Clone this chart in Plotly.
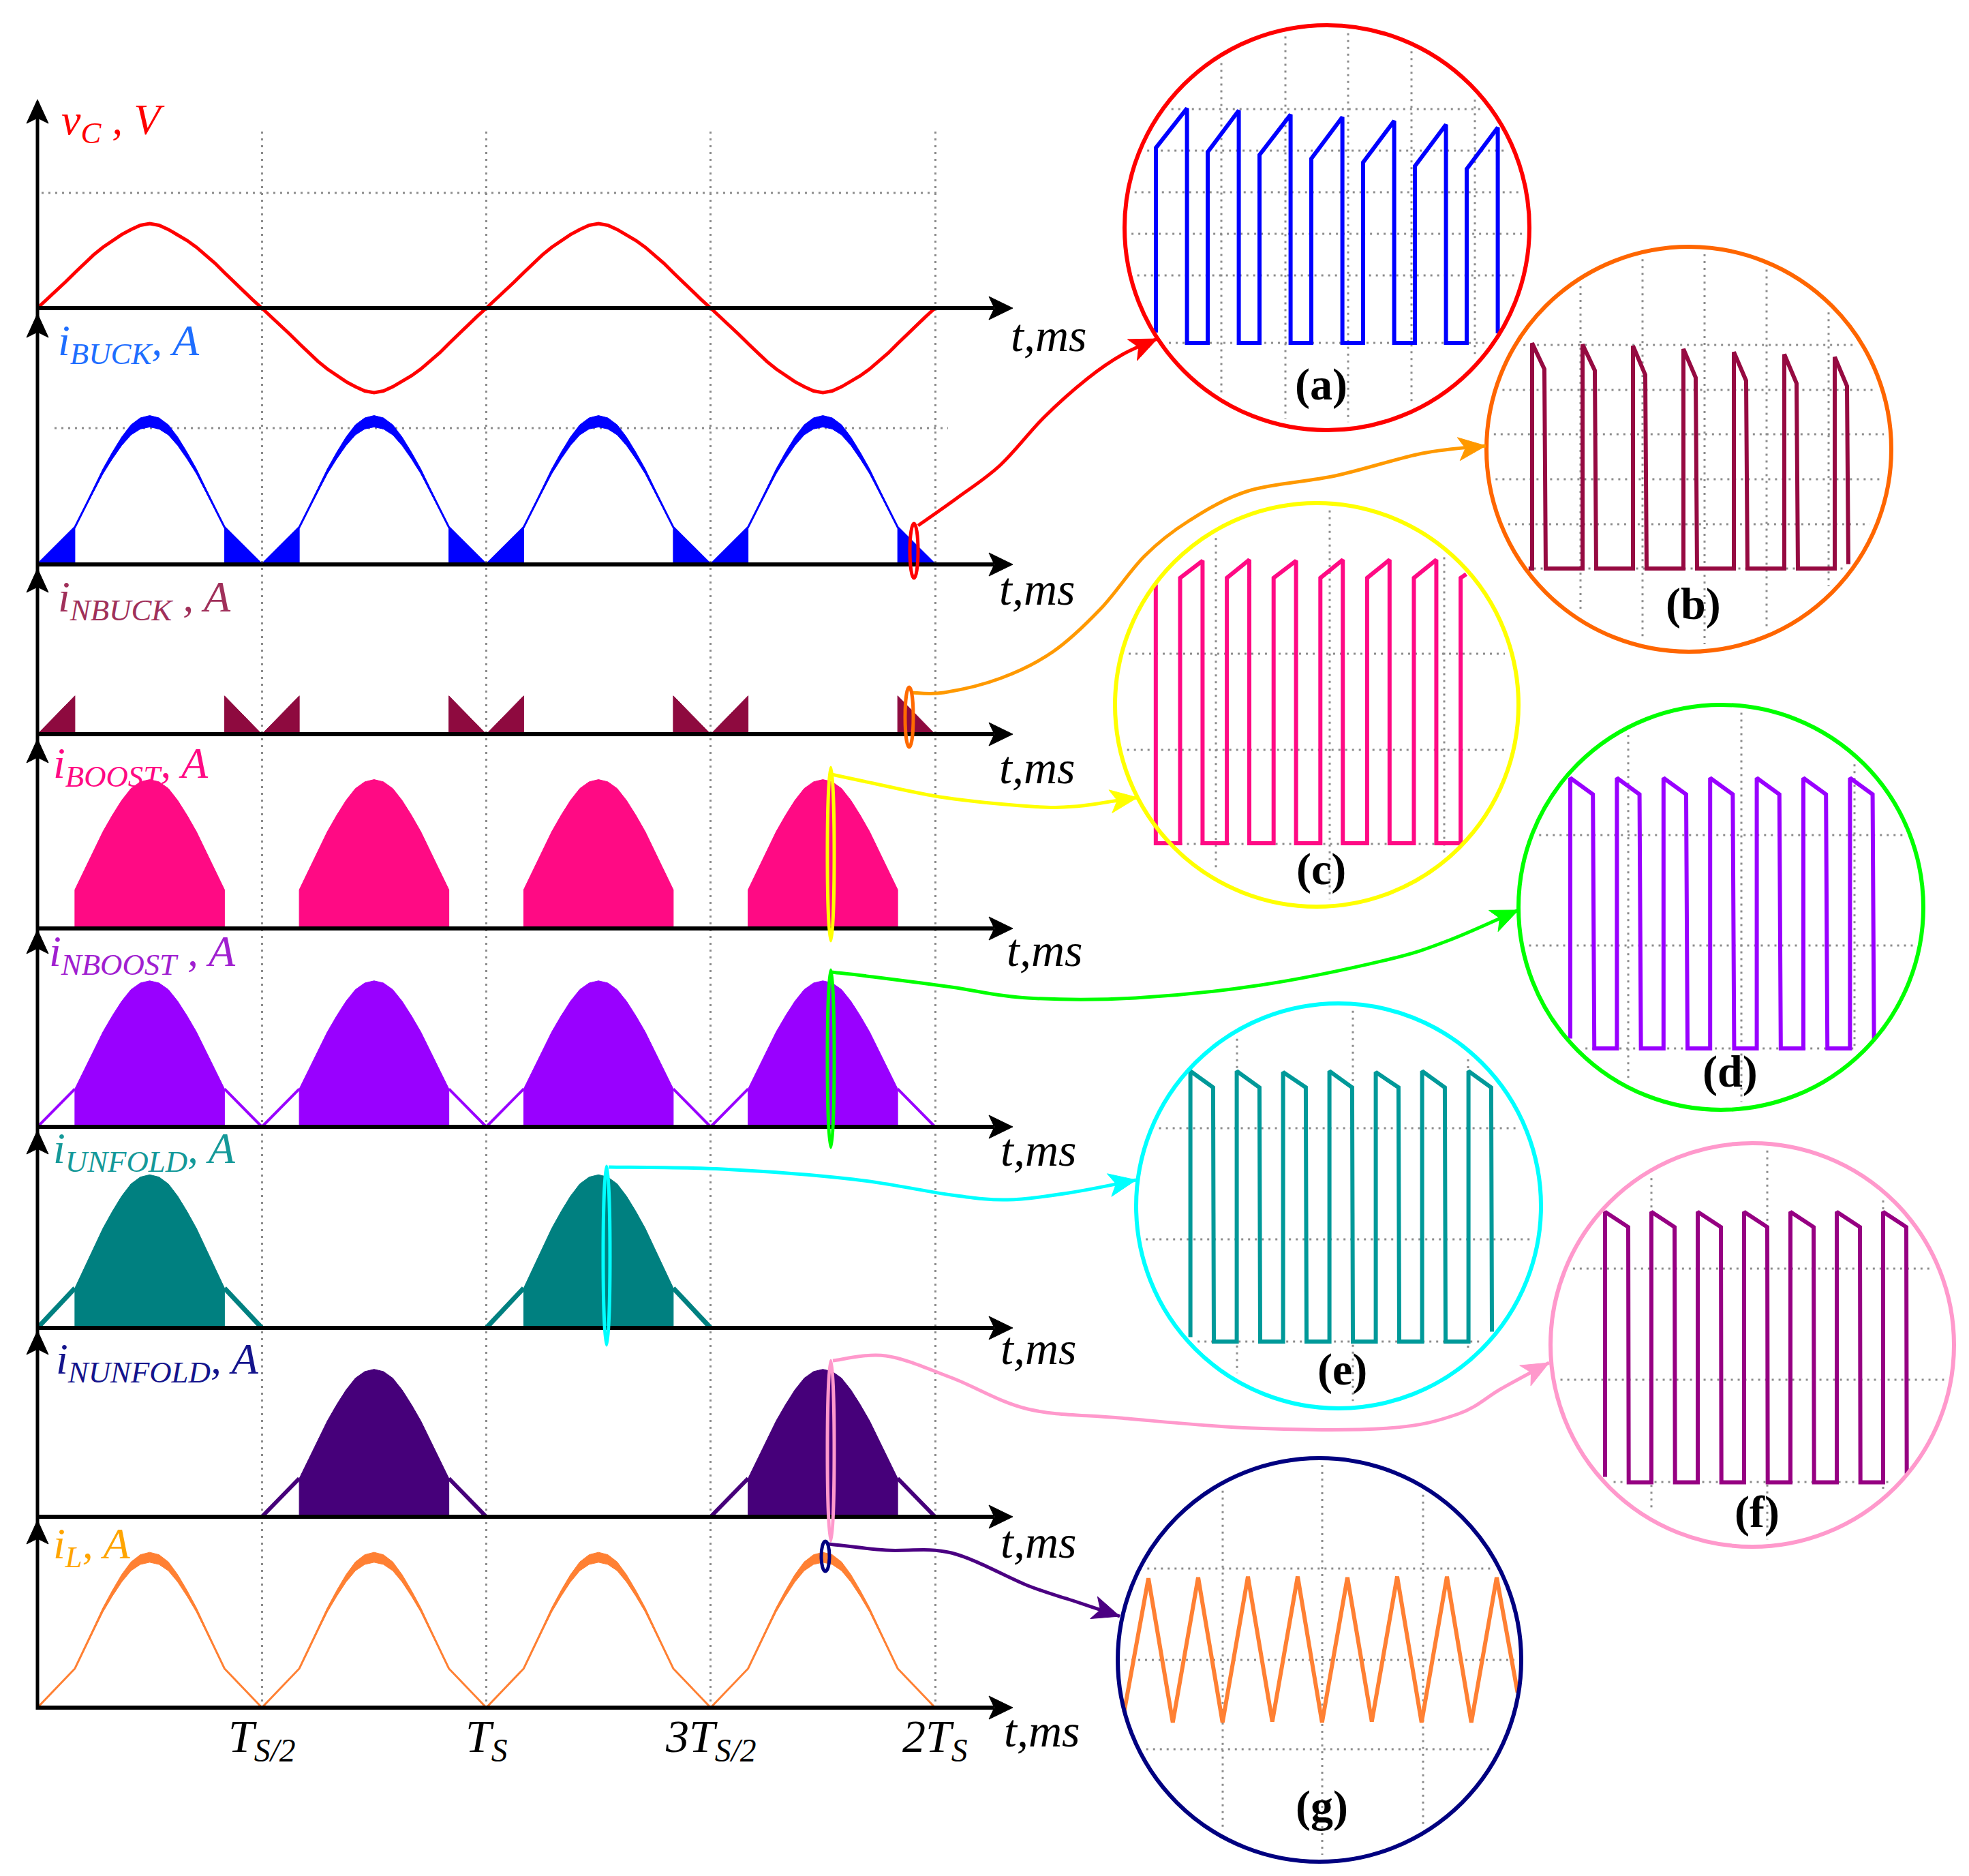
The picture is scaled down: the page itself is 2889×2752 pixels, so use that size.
import math
import plotly.graph_objects as go

W, H = 2889, 2752

# ---------------- values ----------------
# one half period of the grid voltage, 7.5 deg steps
half_deg = [0, 7.5, 15, 22.5, 30, 37.5, 45, 52.5, 60, 67.5, 75, 82.5, 90,
            97.5, 105, 112.5, 120, 127.5, 135, 142.5, 150, 157.5, 165, 172.5, 180]
# normalised capacitor voltage over a half period
vc_half = [0, 0.10, 0.20, 0.31, 0.42, 0.53, 0.63, 0.72, 0.80, 0.87, 0.93, 0.98, 1.0,
           0.98, 0.93, 0.87, 0.80, 0.72, 0.63, 0.53, 0.42, 0.31, 0.20, 0.10, 0]
vc_sign = [1, -1, 1, -1]
# normalised rectified current envelope over a half period
i_half = [0, 0.065, 0.13, 0.195, 0.26, 0.39, 0.52, 0.65, 0.76, 0.86, 0.94, 0.985, 1.0,
          0.985, 0.94, 0.86, 0.76, 0.65, 0.52, 0.39, 0.26, 0.195, 0.13, 0.065, 0]
pwm_lo, pwm_hi = 30, 150   # deg, edges of the buck (PWM) sectors

vc_peak = 1.0
buck_peak, nbuck_peak, boost_peak, nboost_peak = 1.0, 1.03, 1.04, 1.02
unfold_peak, nunfold_peak, il_peak = 1.07, 1.03, 1.05
buck_ripple, il_ripple = 0.04, 0.035

all_halves = [0, 1, 2, 3]
unfold_halves = [0, 2]
nunfold_halves = [1, 3]

tick_t = [0.5, 1.0, 1.5, 2.0]
tick_txt = ["T<sub>S/2</sub>", "T<sub>S</sub>", "3T<sub>S/2</sub>", "2T<sub>S</sub>"]

# zoomed switching waveforms: x in switching periods, y in grid divisions
a_first = [4.69, 4.59, 4.52, 4.43, 4.34, 4.25, 4.18]
a_second = [5.64, 5.59, 5.49, 5.43, 5.34, 5.25, 5.18]
b_first = [5.04, 5.01, 4.98, 4.91, 4.84, 4.79, 4.73]
b_second = [4.46, 4.43, 4.33, 4.27, 4.20, 4.14, 4.08]
c_first = [2.78, 2.78, 2.78, 2.78, 2.78, 2.78]
c_second = [2.96, 2.97, 2.96, 2.97, 2.97, 2.97]
d_first = [2.48, 2.48, 2.48, 2.48, 2.48, 2.48, 2.48]
d_second = [2.33, 2.33, 2.33, 2.33, 2.33, 2.33, 2.33]
e_first = [2.48, 2.48, 2.47, 2.48, 2.47, 2.48, 2.48]
e_second = [2.33, 2.33, 2.33, 2.33, 2.33, 2.33, 2.33]
f_first = [2.48, 2.48, 2.48, 2.48, 2.48, 2.48, 2.48]
f_second = [2.34, 2.34, 2.34, 2.34, 2.34, 2.34, 2.34]
g_peaks = [0.90, 0.91, 0.92, 0.92, 0.91, 0.92, 0.92, 0.91]
g_troughs = [-0.69, -0.69, -0.68, -0.69, -0.68, -0.69, -0.69]


def pulses(first, second, d1, d2, lead_t, lead_y, last_fall=0.0, tail_t=(), tail_y=()):
    xs, ys = list(lead_t), list(lead_y)
    n = len(first)
    for k in range(n):
        if k > 0:
            xs.append(k); ys.append(0)
        xs += [k, k + d1, k + d2]
        ys += [first[k], second[k], last_fall if k == n - 1 else 0]
    return xs + list(tail_t), ys + list(tail_y)


a_wave = pulses(a_first, a_second, 0.6, 0.6, [0], [0.25], 0.23)
b_wave = pulses(b_first, b_second, 0.243, 0.27, [-0.07, 0], [0, 0], 0.1)
c_wave = pulses(c_first, c_second, 0.48, 0.48, [-0.52, -0.52, 0], [2.71, 0, 0], 0.0,
                [6, 6, 6.12], [0, 2.78, 2.82])
d_wave = pulses(d_first, d_second, 0.485, 0.515, [0], [0.09], 0.08)
e_wave = pulses(e_first, e_second, 0.49, 0.506, [0], [0.04], 0.09)
f_wave = pulses(f_first, f_second, 0.5, 0.51, [0], [0.05], 0.08)
g_x, g_y = [-0.49], [-0.58]
for k, p in enumerate(g_peaks):
    g_x.append(k); g_y.append(p)
    if k < len(g_troughs):
        g_x.append(k + 0.49); g_y.append(g_troughs[k])
g_x.append(7.42); g_y.append(-0.36)
g_wave = (g_x, g_y)

# ---------------- figure ----------------
fig = go.Figure()
lay = {}


def axes(n, x_px, y_px, xr, yr):
    s = '' if n == 1 else str(n)
    lay['xaxis' + s] = dict(domain=[x_px[0] / W, x_px[1] / W], range=xr, visible=False,
                            anchor='y' + s, fixedrange=True)
    lay['yaxis' + s] = dict(domain=[1 - y_px[1] / H, 1 - y_px[0] / H], range=yr, visible=False,
                            anchor='x' + s, fixedrange=True)
    fig.add_trace(go.Scatter(x=[xr[0]], y=[yr[0]], mode='markers', marker=dict(opacity=0),
                             hoverinfo='skip', xaxis='x' + s, yaxis='y' + s))
    return 'x' + s, 'y' + s


# overlay in pixel units for decorations
OV = axes(1, (0, W), (0, H), [0, W], [H, 0])

X0, XE, TS_PX = 47, 1478, 658.5
t_max = (XE - X0) / TS_PX
GRID = '#8c8c8c'

GR = axes(2, (X0, XE), (185, 2497), [0, t_max], [0, 1])
lay['xaxis2'].update(visible=True, showgrid=True, tickvals=tick_t, showticklabels=False, ticks='',
                     showline=False, zeroline=False, gridcolor=GRID, griddash='3px,7px', gridwidth=3)


def panel(n, base, top, bot, scale):
    return axes(n, (X0, XE), (top, bot), [0, t_max], [(base - bot) / scale, (base - top) / scale])


def add_line(ref, halves, pk, lo, hi, color, width, shape=i_half, sign=None):
    xs, ys = [], []
    for j, h in enumerate(halves):
        sg = sign[j] if sign else 1
        for d, v in zip(half_deg, shape):
            if lo <= d <= hi:
                xs.append(h * 0.5 + d / 360); ys.append(sg * pk * v)
        if not sign:
            xs.append(None); ys.append(None)
    fig.add_trace(go.Scatter(x=xs, y=ys, mode='lines', line=dict(color=color, width=width),
                             hoverinfo='skip', xaxis=ref[0], yaxis=ref[1]))


def add_fill(ref, halves, pk, lo, hi, color):
    xs, ys = [], []
    for h in halves:
        seg = [(h * 0.5 + d / 360, pk * v) for d, v in zip(half_deg, i_half) if lo <= d <= hi]
        xs += [seg[0][0]] + [p[0] for p in seg] + [seg[-1][0], None]
        ys += [0] + [p[1] for p in seg] + [0, None]
    fig.add_trace(go.Scatter(x=xs, y=ys, mode='lines', fill='toself', fillcolor=color,
                             line=dict(color=color, width=1), hoverinfo='skip',
                             xaxis=ref[0], yaxis=ref[1]))


def add_band(ref, halves, pk, rip, color):
    xs, ys = [], []
    for h in halves:
        t = [h * 0.5 + d / 360 for d in half_deg]
        up = [pk * v + rip * v * v for v in i_half]
        dn = [pk * v - rip * v * v for v in i_half]
        xs += t + t[::-1] + [None]
        ys += up + dn[::-1] + [None]
    fig.add_trace(go.Scatter(x=xs, y=ys, mode='lines', fill='toself', fillcolor=color,
                             line=dict(color=color, width=1), hoverinfo='skip',
                             xaxis=ref[0], yaxis=ref[1]))


baselines = [444, 820, 1069, 1354, 1645, 1940, 2217, 2497]
S = 210  # px per current unit

# v_C
P = panel(3, 444, 138, 600, 124)
add_line(P, all_halves, vc_peak, 0, 180, '#FF0000', 5, shape=vc_half, sign=vc_sign)
# i_BUCK
P = panel(4, 820, 452, 828, S)
add_band(P, all_halves, buck_peak, buck_ripple, '#0000FF')
add_line(P, all_halves, buck_peak, 0, 180, '#0000FF', 3)
add_fill(P, all_halves, buck_peak, 0, pwm_lo, '#0000FF')
add_fill(P, all_halves, buck_peak, pwm_hi, 180, '#0000FF')
# i_NBUCK
P = panel(5, 1069, 826, 1075, S)
fig.add_trace(go.Scatter(x=[0, 2], y=[0, 0], mode='lines', line=dict(color='#8E0A3F', width=4),
                         hoverinfo='skip', xaxis=P[0], yaxis=P[1]))
add_fill(P, all_halves, nbuck_peak, 0, pwm_lo, '#8E0A3F')
add_fill(P, all_halves, nbuck_peak, pwm_hi, 180, '#8E0A3F')
# i_BOOST
P = panel(6, 1354, 1076, 1360, S)
add_fill(P, all_halves, boost_peak, pwm_lo, pwm_hi, '#FF0A84')
# i_NBOOST
P = panel(7, 1645, 1356, 1651, S)
add_fill(P, all_halves, nboost_peak, pwm_lo, pwm_hi, '#9900FF')
add_line(P, all_halves, nboost_peak, 0, pwm_lo, '#9900FF', 4)
add_line(P, all_halves, nboost_peak, pwm_hi, 180, '#9900FF', 4)
# i_UNFOLD
P = panel(8, 1940, 1650, 1946, S)
fig.add_trace(go.Scatter(x=[0.5, 1.0, None, 1.5, 2.0], y=[0, 0, None, 0, 0], mode='lines',
                         line=dict(color='#008080', width=3), hoverinfo='skip', xaxis=P[0], yaxis=P[1]))
add_fill(P, unfold_halves, unfold_peak, pwm_lo, pwm_hi, '#008080')
add_line(P, unfold_halves, unfold_peak, 0, pwm_lo, '#008080', 7)
add_line(P, unfold_halves, unfold_peak, pwm_hi, 180, '#008080', 7)
# i_NUNFOLD
P = panel(9, 2217, 1944, 2223, S)
add_fill(P, nunfold_halves, nunfold_peak, pwm_lo, pwm_hi, '#46007A')
add_line(P, nunfold_halves, nunfold_peak, 0, pwm_lo, '#46007A', 6)
add_line(P, nunfold_halves, nunfold_peak, pwm_hi, 180, '#46007A', 6)
# i_L
P = panel(10, 2497, 2222, 2503, S)
add_band(P, all_halves, il_peak, il_ripple, '#FF8033')
add_line(P, all_halves, il_peak, 0, 180, '#FF8033', 3)

# ---------------- zoom insets ----------------
insets = [
    dict(wave=a_wave, cx=1939, cy=326, r=297, ring='#FF0000', col='#0000FF', x0=1688, sx=76, base=495, sy=61,
         gx=[1784, 1878, 1970, 2063, 2156], gy=[152, 213, 274, 335, 396, 495], lab='(a)', lp=(1930, 556)),
    dict(wave=b_wave, cx=2470, cy=651, r=297, ring='#FF6600', col='#960A41', x0=2240, sx=74, base=826, sy=65.6,
         gx=[2311, 2402, 2493, 2584, 2675], gy=[498, 564, 629, 695, 761, 826], lab='(b)', lp=(2476, 878)),
    dict(wave=c_wave, cx=1924, cy=1026, r=296, ring='#FFFF00', col='#FF0A84', x0=1723.5, sx=68.6, base=1229, sy=140,
         gx=[1776, 1943, 2111], gy=[951, 1092, 1230], lab='(c)', lp=(1930, 1267)),
    dict(wave=d_wave, cx=2517, cy=1323, r=297, ring='#00FF00', col='#9900FF', x0=2296, sx=68.4, base=1530, sy=160,
         gx=[2381, 2547, 2713], gy=[1217, 1379, 1530], lab='(d)', lp=(2530, 1564)),
    dict(wave=e_wave, cx=1956, cy=1761, r=297, ring='#00FFFF', col='#009999', x0=1738.6, sx=68, base=1960, sy=160,
         gx=[1807, 1977, 2146], gy=[1647, 1810, 1960], lab='(e)', lp=(1961, 2001)),
    dict(wave=f_wave, cx=2563, cy=1965, r=296, ring='#FF99CC', col='#960082', x0=2347, sx=68, base=2166.5, sy=160,
         gx=[2415, 2585, 2755], gy=[1853, 2016, 2166], lab='(f)', lp=(2570, 2210)),
    dict(wave=g_wave, cx=1928, cy=2427, r=296, ring='#000080', col='#FF8033', x0=1677, sx=73, base=2427, sy=133,
         gx=[1786, 1932, 2080], gy=[2293, 2427, 2558], lab='(g)', lp=(1931, 2642)),
]

shapes = []
annots = []


def ov_shape(**kw):
    d = dict(xref='x', yref='y')
    d.update(kw)
    shapes.append(d)


for i, s in enumerate(insets):
    cx, cy, r = s['cx'], s['cy'], s['r']
    xr = [(cx - r - s['x0']) / s['sx'], (cx + r - s['x0']) / s['sx']]
    yr = [(s['base'] - (cy + r)) / s['sy'], (s['base'] - (cy - r)) / s['sy']]
    ref = axes(11 + i, (cx - r, cx + r), (cy - r, cy + r), xr, yr)
    fig.add_trace(go.Scatter(x=s['wave'][0], y=s['wave'][1], mode='lines',
                             line=dict(color=s['col'], width=6), hoverinfo='skip',
                             xaxis=ref[0], yaxis=ref[1]))
    rr = r - 10
    for gx in s['gx']:
        if abs(gx - cx) < rr:
            h = math.sqrt(rr ** 2 - (gx - cx) ** 2)
            ov_shape(type='line', x0=gx, x1=gx, y0=cy - h, y1=cy + h, layer='below',
                     line=dict(color=GRID, width=3, dash='3px,7px'))
    for gy in s['gy']:
        if abs(gy - cy) < rr:
            h = math.sqrt(rr ** 2 - (gy - cy) ** 2)
            ov_shape(type='line', x0=cx - h, x1=cx + h, y0=gy, y1=gy, layer='below',
                     line=dict(color=GRID, width=3, dash='3px,7px'))
    ov_shape(type='circle', x0=cx - r, x1=cx + r, y0=cy - r, y1=cy + r, layer='above',
             line=dict(color=s['ring'], width=6))
    annots.append(dict(x=s['lp'][0], y=s['lp'][1], text='<b>' + s['lab'] + '</b>', showarrow=False,
                       xref='x', yref='y', font=dict(family='Liberation Serif', size=66, color='black')))

# ---------------- axes, arrows, grid lines of the main plot ----------------
ov_shape(type='line', x0=53, x1=1368, y0=275, y1=275, layer='below',
         line=dict(color=GRID, width=3, dash='3px,7px'))
ov_shape(type='line', x0=72, x1=1383, y0=620, y1=620, layer='below',
         line=dict(color=GRID, width=3, dash='3px,7px'))
ov_shape(type='line', x0=X0, x1=X0, y0=150, y1=2500, layer='above', line=dict(color='black', width=5))
for b in baselines:
    ov_shape(type='line', x0=X0, x1=1450, y0=b, y1=b, layer='above', line=dict(color='black', width=6))
    ov_shape(type='path', path=f'M 1478,{b} L 1443,{b - 17} L 1451,{b} L 1443,{b + 17} Z',
             fillcolor='black', line=dict(color='black', width=1), layer='above')
for tip in [138, 452, 826, 1076, 1356, 1650, 1944, 2222]:
    ov_shape(type='path', path=f'M {X0},{tip} L {X0 - 16},{tip + 35} L {X0},{tip + 27} L {X0 + 16},{tip + 35} Z',
             fillcolor='black', line=dict(color='black', width=1), layer='above')

# ---------------- connectors ----------------
connectors = [
    ('#FF0000', [(1339, 763), (1397, 722), (1460, 674), (1524, 604), (1588, 547), (1639, 512), (1690, 489)]),
    ('#FF9900', [(1329, 1008), (1377, 1008), (1460, 987), (1537, 948), (1607, 885), (1671, 808), (1735, 757),
                 (1824, 712), (1951, 690), (2079, 657), (2172, 646)]),
    ('#FFFF00', [(1212, 1128), (1273, 1141), (1378, 1162), (1505, 1175), (1569, 1175), (1633, 1166), (1661, 1162)]),
    ('#00FF00', [(1212, 1418), (1273, 1425), (1388, 1440), (1500, 1456), (1658, 1456), (1842, 1437),
                 (2027, 1400), (2119, 1371), (2220, 1327)]),
    ('#00FFFF', [(885, 1704), (1052, 1707), (1244, 1722), (1388, 1745), (1470, 1752), (1560, 1742), (1659, 1723)]),
    ('#FF99CC', [(1214, 1988), (1292, 1981), (1388, 2013), (1500, 2059), (1635, 2072), (1830, 2087),
                 (2029, 2087), (2132, 2066), (2195, 2029), (2265, 1991)]),
    ('#4B0082', [(1208, 2257), (1292, 2266), (1388, 2270), (1500, 2318), (1566, 2340), (1635, 2363)]),
]


def smooth(pts):
    d = f'M {pts[0][0]},{pts[0][1]}'
    n = len(pts)
    for i in range(n - 1):
        p0 = pts[i - 1] if i > 0 else pts[i]
        p1, p2 = pts[i], pts[i + 1]
        p3 = pts[i + 2] if i + 2 < n else pts[i + 1]
        c1 = (p1[0] + (p2[0] - p0[0]) / 6, p1[1] + (p2[1] - p0[1]) / 6)
        c2 = (p2[0] - (p3[0] - p1[0]) / 6, p2[1] - (p3[1] - p1[1]) / 6)
        d += f' C {c1[0]:.1f},{c1[1]:.1f} {c2[0]:.1f},{c2[1]:.1f} {p2[0]},{p2[1]}'
    return d


for col, pts in connectors:
    ov_shape(type='path', path=smooth(pts), layer='above', line=dict(color=col, width=5))
    (ax, ay), (tx, ty) = pts[-2], pts[-1]
    L = math.hypot(tx - ax, ty - ay)
    ux, uy = (tx - ax) / L, (ty - ay) / L
    bx, by = tx - 40 * ux, ty - 40 * uy
    mx, my = tx - 30 * ux, ty - 30 * uy
    px, py = -uy, ux
    ov_shape(type='path', layer='above', fillcolor=col, line=dict(color=col, width=1),
             path=f'M {tx},{ty} L {bx + 17 * px:.1f},{by + 17 * py:.1f} L {mx:.1f},{my:.1f} '
                  f'L {bx - 17 * px:.1f},{by - 17 * py:.1f} Z')

# marker ellipses on the main waveforms
for col, cx, cy, rx, ry in [('#FF0000', 1333, 800, 6, 40), ('#FF6A00', 1326, 1044, 6, 44),
                            ('#FFFF00', 1211, 1245, 5, 127), ('#00FF00', 1211, 1545, 5, 130),
                            ('#00FFFF', 882, 1834, 5, 131), ('#FF99CC', 1211, 2120, 5, 132),
                            ('#000080', 1203, 2275, 6, 22)]:
    ov_shape(type='circle', x0=cx - rx, x1=cx + rx, y0=cy - ry, y1=cy + ry, layer='above',
             line=dict(color=col, width=5))

# ---------------- text ----------------
labels = [
    ('<i>v</i><sub><i>C</i></sub><i> , V</i>', '#FF0000', 80, 172),
    ('<i>i</i><sub><i>BUCK</i></sub><i>, A</i>', '#1E6EFF', 75, 496),
    ('<i>i</i><sub><i>NBUCK</i></sub><i> , A</i>', '#A0305A', 75, 872),
    ('<i>i</i><sub><i>BOOST</i></sub><i>, A</i>', '#FF0A84', 68, 1116),
    ('<i>i</i><sub><i>NBOOST</i></sub><i> , A</i>', '#A020D0', 62, 1392),
    ('<i>i</i><sub><i>UNFOLD</i></sub><i>, A</i>', '#159999', 68, 1681),
    ('<i>i</i><sub><i>NUNFOLD</i></sub><i>, A</i>', '#14148C', 72, 1990),
    ('<i>i</i><sub><i>L</i></sub><i>, A</i>', '#FFA500', 68, 2261),
]
for txt, col, x, y in labels:
    annots.append(dict(x=x, y=y, text=txt, showarrow=False, xref='x', yref='y', xanchor='left',
                       font=dict(family='Liberation Serif', size=64, color=col)))

for x, y in [(1530, 484), (1513, 856), (1513, 1118), (1524, 1386), (1515, 1679), (1515, 1970),
             (1515, 2254), (1520, 2531)]:
    annots.append(dict(x=x, y=y, text='<i>t,ms</i>', showarrow=False, xref='x', yref='y',
                       font=dict(family='Liberation Serif', size=68, color='black')))

for t, txt in zip(tick_t, tick_txt):
    annots.append(dict(x=t, y=2543, text='<i>' + txt + '</i>', showarrow=False, xref=GR[0], yref='y',
                       font=dict(family='Liberation Serif', size=68, color='black')))

fig.update_layout(width=W, height=H, margin=dict(l=0, r=0, t=0, b=0), showlegend=False,
                  paper_bgcolor='white', plot_bgcolor='rgba(0,0,0,0)',
                  shapes=shapes, annotations=annots, **lay)

fig.write_html("out.html")
